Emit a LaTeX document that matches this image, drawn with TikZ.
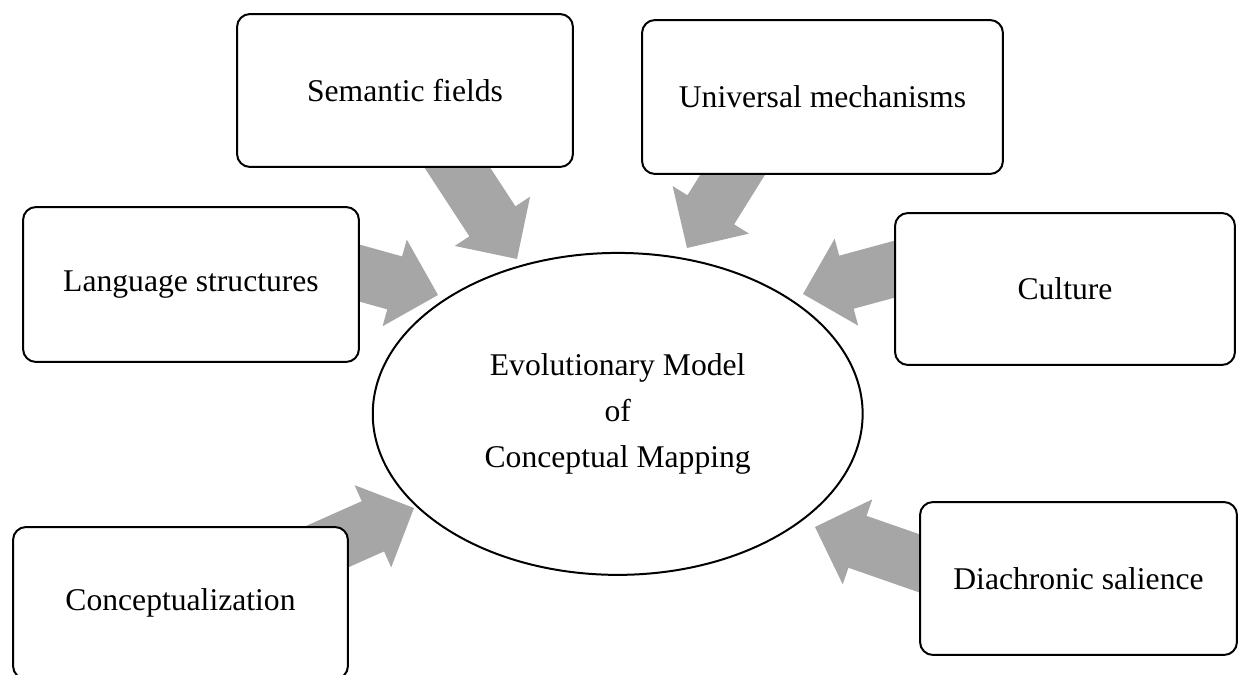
\documentclass[tikz,border=0pt]{standalone}
\usepackage{fontspec}
\setmainfont{Liberation Serif}
\usetikzlibrary{calc,shapes.geometric}
\definecolor{arrowgray}{HTML}{A6A6A6}
\tikzset{
  factor/.style={draw,fill=white,line width=0.04cm,rounded corners=0.26cm,
    inner sep=0pt,align=center,font=\fontsize{18}{26}\selectfont},
  model/.style={draw,fill=white,ellipse,line width=0.04cm,inner sep=0pt,
    minimum width=9.8cm,minimum height=6.44cm,align=center,
    font=\fontsize{18}{26}\selectfont}
}
% block arrow from #1 to #2
\newcommand\pusharrow[2]{\fill[arrowgray] (#2)
  -- ($(#2)!1.2728cm!45:(#1)$) -- ($(#2)!1.0548cm!31.43:(#1)$)
  -- ($(#1)!0.55cm!-90:(#2)$) -- ($(#1)!0.55cm!90:(#2)$)
  -- ($(#2)!1.0548cm!-31.43:(#1)$) -- ($(#2)!1.2728cm!-45:(#1)$) -- cycle;}
\begin{document}
\begin{tikzpicture}[x=0.02cm,y=-0.02cm]
\useasboundingbox (0,0) rectangle (1238,675);
% arrow ends
\coordinate (semfrom) at (429.5,125);
\coordinate (semto) at (517,259);
\coordinate (unifrom) at (771.6,112.2);
\coordinate (unito) at (687,248);
\coordinate (langfrom) at (284,252);
\coordinate (langto) at (438,295);
\coordinate (cultfrom) at (957.4,252.1);
\coordinate (cultto) at (803,294);
\coordinate (concfrom) at (268,573);
\coordinate (concto) at (414,508);
\coordinate (diafrom) at (966,579.6);
\coordinate (diato) at (815,527);
\pusharrow{semfrom}{semto}
\pusharrow{unifrom}{unito}
\pusharrow{langfrom}{langto}
\pusharrow{cultfrom}{cultto}
\pusharrow{concfrom}{concto}
\pusharrow{diafrom}{diato}
% boxes
\node[factor,minimum width=6.72cm,minimum height=3.06cm] (sem) at (405,90.5) {Semantic fields};
\node[factor,minimum width=7.22cm,minimum height=3.08cm] (uni) at (822.5,97) {Universal mechanisms};
\node[factor,minimum width=6.72cm,minimum height=3.1cm] (lang) at (191,284.5) {Language structures};
\node[factor,minimum width=6.8cm,minimum height=3.04cm] (cult) at (1065,289) {Culture};
\node[factor,minimum width=6.7cm,minimum height=3.04cm] (conc) at (180.5,603) {Conceptualization};
\node[factor,minimum width=6.34cm,minimum height=3.06cm] (dia) at (1078.5,578.5) {Diachronic salience};
\node[model] (evo) at (617.7,413.9) {Evolutionary Model\\of\\Conceptual Mapping};
\end{tikzpicture}
\end{document}
